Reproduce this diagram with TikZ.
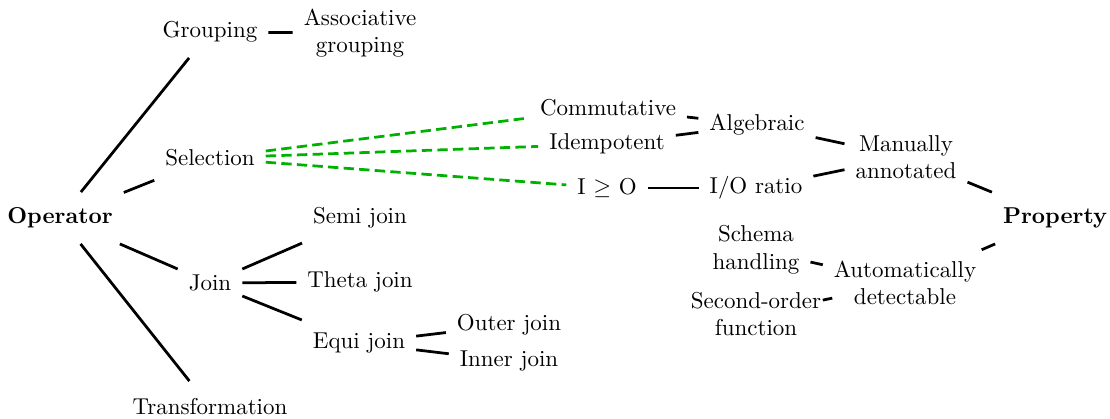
\documentclass[tikz,border=0pt]{standalone}
\begin{document}
\begin{tikzpicture}[x=0.4355pt,y=-0.4355pt,
  lbl/.style={inner sep=3.33pt, outer sep=1.5pt, minimum height=19.6pt, align=center},
  link/.style={line width=1.2pt},
  sel/.style={line width=1.2pt, draw=green!70!black, dash pattern=on 4.5pt off 2.3pt}]
\useasboundingbox (0,0) rectangle (1110,419);
% left tree
\node[lbl,font=\bfseries] (op) at (60,218) {Operator};
\node[lbl] (grp) at (210,32) {Grouping};
\node[lbl] (assoc) at (360,33) {Associative\\grouping};
\node[lbl] (sel) at (210,158) {Selection};
\node[lbl] (join) at (210,283) {Join};
\node[lbl] (trans) at (210,407) {Transformation};
\node[lbl] (semi) at (360,218) {Semi join};
\node[lbl] (theta) at (360,282) {Theta join};
\node[lbl] (equi) at (359,343) {Equi join};
\node[lbl] (outer) at (509,325) {Outer join};
\node[lbl] (inner) at (509,361) {Inner join};
% right tree
\node[lbl,font=\bfseries] (prop) at (1055,218) {Property};
\node[lbl] (man) at (906,157) {Manually\\annotated};
\node[lbl] (auto) at (905,283) {Automatically\\detectable};
\node[lbl] (alg) at (757,125) {Algebraic};
\node[lbl] (io) at (756,188) {I/O ratio};
\node[lbl] (schema) at (756,250) {Schema\\handling};
\node[lbl] (second) at (756,314) {Second-order\\function};
\node[lbl] (comm) at (608,108) {Commutative};
\node[lbl] (idem) at (607,144) {Idempotent};
\node[lbl] (igo) at (607,188) {I $\geq$ O};
% connectors
\draw[link] (op) -- (grp);
\draw[link] (op) -- (sel);
\draw[link] (op) -- (join);
\draw[link] (op) -- (trans);
\draw[link] (grp) -- (assoc);
\draw[link] (join) -- (semi);
\draw[link] (join) -- (theta);
\draw[link] (join) -- (equi);
\draw[link] (equi) -- (outer);
\draw[link] (equi) -- (inner);
\draw[link] (prop) -- (man);
\draw[link] (prop) -- (auto);
\draw[link] (man) -- (alg);
\draw[link] (man) -- (io);
\draw[link] (auto) -- (schema);
\draw[link] (auto) -- (second);
\draw[link] (alg) -- (comm);
\draw[link] (alg) -- (idem);
\draw[link] (io) -- (igo);
\draw[sel] (sel) -- (comm);
\draw[sel] (sel) -- (idem);
\draw[sel] (sel) -- (igo);
\end{tikzpicture}
\end{document}
